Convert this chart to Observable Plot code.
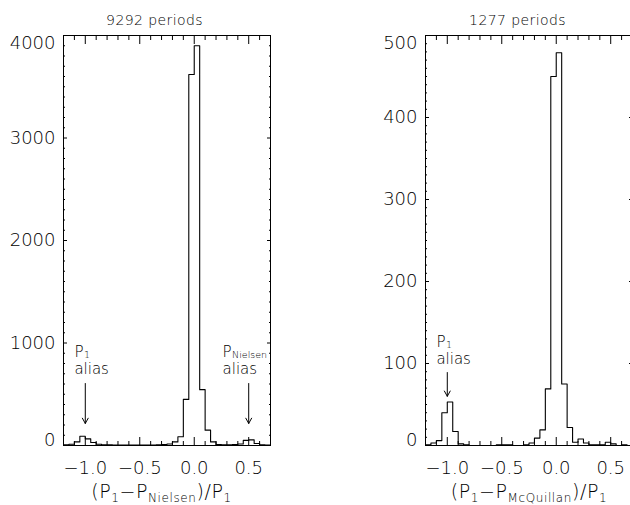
<!DOCTYPE html>
<html><head><meta charset="utf-8">
<script src="https://cdn.jsdelivr.net/npm/d3@7"></script>
<script src="https://cdn.jsdelivr.net/npm/@observablehq/plot@0.6"></script>
<style>
html,body{margin:0;padding:0;background:#fff;overflow:hidden;}
#wrap{position:relative;width:630px;height:505px;overflow:hidden;background:#fff;}
#wrap svg{position:absolute;top:0;}
#wrap text{font-weight:200;}
</style></head><body><div id="wrap"></div>
<script>
// ---- data ----
const binStart = -1.2;
const binWidth = 0.05;
// counts per 0.05-wide bin from -1.2 to 0.7
const nielsenCounts = [8, 12, 35, 90, 65, 30, 12, 8, 6, 5, 5, 4, 4, 5, 4, 4, 5, 6, 10, 15, 35, 85, 450, 3620, 3900, 545, 150, 35, 10, 8, 8, 10, 15, 50, 55, 20, 8, 5];
const mcquillanCounts = [1, 3, 6, 40, 53, 17, 2, 1, 0, 0, 0, 0, 0, 1, 1, 1, 0, 0, 1, 3, 9, 19, 69, 450, 479, 75, 22, 4, 8, 3, 1, 1, 1, 4, 2, 0, 1, 0];
const xDomain = [-1.2, 0.7];
const xMajorTicks = [-1.0, -0.5, 0.0, 0.5];
const xMinorTicks = [-1.1, -0.9, -0.8, -0.7, -0.6, -0.4, -0.3, -0.2, -0.1, 0.1, 0.2, 0.3, 0.4, 0.6];
const nielsenYTicks = [0, 1000, 2000, 3000, 4000];
const mcquillanYTicks = [0, 100, 200, 300, 400, 500];
const panelTitles = ["9292 periods", "1277 periods"];
const nielsenNotes = [
  {arrowX: -1.0, tailY: 605, tipY: 215, textX: -1.1, sub: "1"},
  {arrowX: 0.5, tailY: 605, tipY: 215, textX: 0.26, sub: "Nielsen"}
];
const mcquillanNotes = [
  {arrowX: -1.0, tailY: 89, tipY: 60, textX: -1.1, sub: "1"}
];

const FONT = "'DejaVu Sans', sans-serif";
const INK = "#000";

function steps(counts) {
  const pts = counts.map((c, i) => ({x: binStart + i * binWidth, y: c}));
  pts.push({x: binStart + counts.length * binWidth, y: counts[counts.length - 1]});
  return pts;
}

function panel({counts, yTicks, yMinorStep, notes, width, marginLeft, marginRight}) {
  const yMax = yTicks[yTicks.length - 1];
  const yMinor = d3.range(0, yMax + 1e-9, yMinorStep).filter(v => !yTicks.includes(v));
  const blank = () => "";
  const mid = yTicks.slice(1, -1);
  return Plot.plot({
    width, height: 505, marginLeft, marginRight, marginTop: 35, marginBottom: 60,
    style: {fontFamily: FONT, fontSize: "18px", color: INK, background: "transparent", overflow: "visible"},
    x: {domain: xDomain, label: null},
    y: {domain: [0, yMax], label: null},
    marks: [
      Plot.frame({stroke: INK, strokeWidth: 1}),
      // inward ticks, x
      Plot.axisX(xMajorTicks, {anchor: "bottom", tickSize: 8, dy: -8, tickFormat: blank, label: null, stroke: INK}),
      Plot.axisX(xMinorTicks, {anchor: "bottom", tickSize: 4, dy: -4, tickFormat: blank, label: null, stroke: INK}),
      Plot.axisX(xMajorTicks, {anchor: "top", tickSize: 8, dy: 8, tickFormat: blank, label: null, stroke: INK}),
      Plot.axisX(xMinorTicks, {anchor: "top", tickSize: 4, dy: 4, tickFormat: blank, label: null, stroke: INK}),
      // inward ticks, y
      Plot.axisY(yTicks, {anchor: "left", tickSize: 4, dx: 4, tickFormat: blank, label: null, stroke: INK}),
      Plot.axisY(yMinor, {anchor: "left", tickSize: 2, dx: 2, tickFormat: blank, label: null, stroke: INK}),
      Plot.axisY(yTicks, {anchor: "right", tickSize: 4, dx: -4, tickFormat: blank, label: null, stroke: INK}),
      Plot.axisY(yMinor, {anchor: "right", tickSize: 2, dx: -2, tickFormat: blank, label: null, stroke: INK}),
      // tick labels
      Plot.axisX(xMajorTicks, {anchor: "bottom", tickSize: 0, tickPadding: 16, tickFormat: d3.format(".1f"), fontSize: 18, label: null}),
      Plot.axisY(mid, {anchor: "left", tickSize: 0, tickPadding: 8, tickFormat: d => String(d), fontSize: 18, label: null}),
      Plot.axisY([yTicks[yTicks.length - 1]], {anchor: "left", tickSize: 0, tickPadding: 8, dy: 8, tickFormat: d => String(d), fontSize: 18, label: null}),
      Plot.axisY([yTicks[0]], {anchor: "left", tickSize: 0, tickPadding: 8, dy: -5, tickFormat: d => String(d), fontSize: 18, label: null}),
      // histogram
      Plot.line(steps(counts), {x: "x", y: "y", curve: "step-after", stroke: INK, strokeWidth: 1.1}),
      // annotations
      Plot.arrow(notes, {x: "arrowX", y1: "tailY", y2: "tipY", stroke: INK, strokeWidth: 1, headLength: 9, headAngle: 58}),
      Plot.text(notes, {x: "textX", y: "tailY", text: () => "alias", textAnchor: "start", lineAnchor: "bottom", dy: -9, fontSize: 15, fill: INK}),
      Plot.text(notes, {x: "textX", y: "tailY", text: () => "P", textAnchor: "start", lineAnchor: "bottom", dy: -26, fontSize: 15, fill: INK}),
      Plot.text(notes, {x: "textX", y: "tailY", text: "sub", textAnchor: "start", lineAnchor: "bottom", dx: 9.5, dy: -25, fontSize: 9.5, fill: INK})
    ]
  });
}

const wrap = document.getElementById("wrap");
const left = panel({counts: nielsenCounts, yTicks: nielsenYTicks, yMinorStep: 100, notes: nielsenNotes, width: 315, marginLeft: 63, marginRight: 45});
left.style.left = "0px";
wrap.appendChild(left);
const right = panel({counts: mcquillanCounts, yTicks: mcquillanYTicks, yMinorStep: 10, notes: mcquillanNotes, width: 320, marginLeft: 110, marginRight: 3});
right.style.left = "315px";
wrap.appendChild(right);

// titles and axis titles (text with subscripts)
const ov = d3.select(wrap).append("svg").attr("width", 630).attr("height", 505)
  .style("left", "0px").style("pointer-events", "none")
  .attr("font-family", FONT).attr("fill", INK);
const titleX = [154.5, 517.5];
panelTitles.forEach((t, i) => {
  ov.append("text").attr("x", titleX[i]).attr("y", 25).attr("text-anchor", "middle")
    .attr("font-size", 14).attr("letter-spacing", 0.4).text(t);
});
const axisSubs = ["Nielsen", "McQuillan"];
const axisTitleX = [161.5, 529];
axisSubs.forEach((s, i) => {
  const t = ov.append("text").attr("x", axisTitleX[i]).attr("y", 498).attr("text-anchor", "middle")
    .attr("font-size", 19).attr("letter-spacing", 0.6);
  t.append("tspan").text("(P");
  t.append("tspan").attr("font-size", 12).attr("dy", 4).text("1");
  t.append("tspan").attr("dy", -4).text("\u2212P");
  t.append("tspan").attr("font-size", 12).attr("dy", 4).text(s);
  t.append("tspan").attr("dy", -4).text(")/P");
  t.append("tspan").attr("font-size", 12).attr("dy", 4).text("1");
});
</script>
</body></html>
